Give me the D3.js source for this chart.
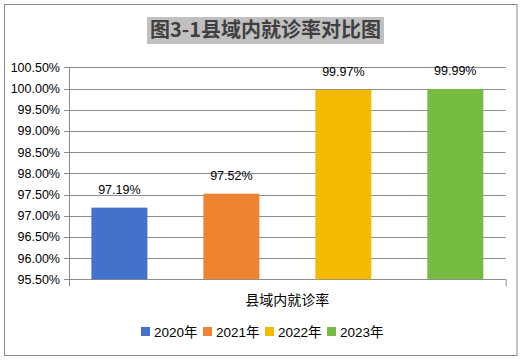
<!DOCTYPE html>
<html>
<head>
<meta charset="utf-8">
<script src="https://cdn.jsdelivr.net/npm/d3@7"></script>
<style>
  body { margin: 0; background: #fff; }
  text { font-family: "Liberation Sans", "Noto Sans CJK SC", sans-serif; }
</style>
</head>
<body>
<div id="chart"></div>
<script>
// data
var years = ["2020年", "2021年", "2022年", "2023年"];
var rates = [97.19, 97.52, 99.97, 99.99];
var colors = ["#4472CA", "#EE8331", "#F2BA02", "#76BC42"];
var yTicks = [95.5, 96, 96.5, 97, 97.5, 98, 98.5, 99, 99.5, 100, 100.5];
var category = "县域内就诊率";
var title = "图3-1县域内就诊率对比图";

var width = 525, height = 363;
var plotLeft = 69, plotRight = 505.7, plotTop = 67.3, plotBottom = 279.3;

var svg = d3.select("#chart").append("svg")
  .attr("width", width)
  .attr("height", height);

// outer frame
svg.append("rect")
  .attr("x", 4.5).attr("y", 4.5)
  .attr("width", 512.5).attr("height", 351)
  .attr("fill", "#fff")
  .attr("stroke", "#888").attr("stroke-width", 1);

// title
svg.append("rect")
  .attr("x", 147).attr("y", 17)
  .attr("width", 237).attr("height", 27)
  .attr("fill", "#c0c0c0");
svg.append("text")
  .attr("x", 265.5).attr("y", 37)
  .attr("text-anchor", "middle")
  .style("font-family", "'Noto Sans CJK SC', sans-serif")
  .style("font-size", "20px")
  .style("font-weight", "bold")
  .attr("fill", "#404040")
  .text(title);

var y = d3.scaleLinear().domain([95.5, 100.5]).range([plotBottom, plotTop]);
var x = d3.scaleBand().domain(years).range([plotLeft, plotRight])
  .paddingInner(0.5).paddingOuter(0.2);

// gridlines
svg.append("g").selectAll("line")
  .data(yTicks)
  .enter().append("line")
  .attr("x1", plotLeft - 5).attr("x2", plotRight)
  .attr("y1", function(d) { return Math.round(y(d)) + 0.5; })
  .attr("y2", function(d) { return Math.round(y(d)) + 0.5; })
  .attr("stroke", "#8c8c8c");

// axis lines
svg.append("line")
  .attr("x1", plotLeft + 0.5).attr("x2", plotLeft + 0.5)
  .attr("y1", plotTop).attr("y2", plotBottom + 7)
  .attr("stroke", "#8c8c8c");
svg.append("line")
  .attr("x1", plotRight + 0.5).attr("x2", plotRight + 0.5)
  .attr("y1", plotBottom).attr("y2", plotBottom + 7)
  .attr("stroke", "#8c8c8c");

// y labels
svg.append("g").selectAll("text")
  .data(yTicks)
  .enter().append("text")
  .attr("x", 60)
  .attr("y", function(d) { return y(d) + 4.5; })
  .attr("text-anchor", "end")
  .style("font-size", "12.5px")
  .attr("fill", "#000")
  .text(function(d) { return d.toFixed(2) + "%"; });

// bars
svg.append("g").selectAll("rect")
  .data(rates)
  .enter().append("rect")
  .attr("x", function(d, i) { return x(years[i]); })
  .attr("width", x.bandwidth())
  .attr("y", function(d) { return y(d); })
  .attr("height", function(d) { return plotBottom - y(d); })
  .attr("fill", function(d, i) { return colors[i]; });

// value labels
svg.append("g").selectAll("text")
  .data(rates)
  .enter().append("text")
  .attr("x", function(d, i) { return x(years[i]) + x.bandwidth() / 2; })
  .attr("y", function(d) { return y(d) - 14; })
  .attr("text-anchor", "middle")
  .style("font-size", "12.5px")
  .attr("fill", "#000")
  .text(function(d) { return d.toFixed(2) + "%"; });

// category label
svg.append("text")
  .attr("x", (plotLeft + plotRight) / 2)
  .attr("y", 305)
  .attr("text-anchor", "middle")
  .style("font-family", "'Noto Sans CJK SC', sans-serif")
  .style("font-size", "14px")
  .attr("fill", "#000")
  .text(category);

// legend
var legend = svg.append("g").selectAll("g")
  .data(years)
  .enter().append("g")
  .attr("transform", function(d, i) { return "translate(" + (141 + i * 62) + ",327)"; });
legend.append("rect")
  .attr("width", 9).attr("height", 9)
  .attr("fill", function(d, i) { return colors[i]; });
legend.append("text")
  .attr("x", 13).attr("y", 9.5)
  .style("font-family", "'Liberation Sans', 'Noto Sans CJK SC', sans-serif")
  .style("font-size", "13.5px")
  .attr("fill", "#000")
  .text(function(d) { return d; });
</script>
</body>
</html>
